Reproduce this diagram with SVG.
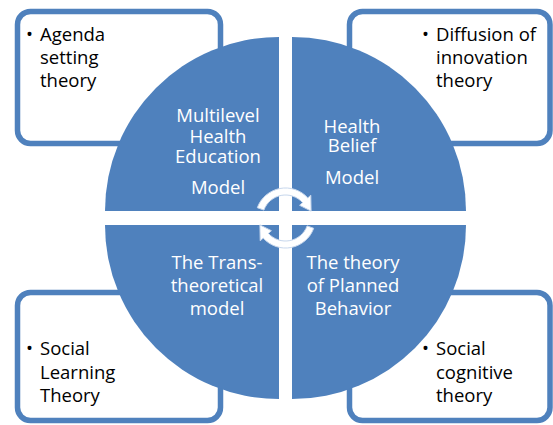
<svg xmlns="http://www.w3.org/2000/svg" width="553" height="425" viewBox="0 0 553 425">
<style>
.box{fill:#fff;stroke:#4F81BD;stroke-width:5.5}
.q{fill:#4F81BD}
.wt{font-family:"Open Sans","Liberation Sans",sans-serif;font-size:18.5px;fill:#fff;text-anchor:middle}
.bt{font-family:"Open Sans","Liberation Sans",sans-serif;font-size:18.5px;fill:#000}
.arr{fill:#fff;stroke:#C6D6EC;stroke-width:1}
</style>
<rect width="553" height="425" fill="#fff"/>
<g id="box-agenda">
<rect class="box" x="17.5" y="11.5" width="203" height="132" rx="13"/>
<text class="bt" x="26" y="41">•</text>
<text class="bt" x="40" y="41">Agenda</text>
<text class="bt" x="40" y="64">setting</text>
<text class="bt" x="40" y="87">theory</text>
</g>
<g id="box-diffusion">
<rect class="box" x="349.5" y="11.5" width="200.5" height="132" rx="13"/>
<text class="bt" x="422" y="41">•</text>
<text class="bt" x="436" y="41">Diffusion of</text>
<text class="bt" x="436" y="64">innovation</text>
<text class="bt" x="436" y="87">theory</text>
</g>
<g id="box-social-learning">
<rect class="box" x="17.5" y="292.5" width="203" height="128" rx="13"/>
<text class="bt" x="26" y="355">•</text>
<text class="bt" x="40" y="355">Social</text>
<text class="bt" x="40" y="379">Learning</text>
<text class="bt" x="40" y="402">Theory</text>
</g>
<g id="box-social-cognitive">
<rect class="box" x="349.5" y="292.5" width="200.5" height="128" rx="13"/>
<text class="bt" x="422" y="355">•</text>
<text class="bt" x="436" y="355">Social</text>
<text class="bt" x="436" y="379">cognitive</text>
<text class="bt" x="436" y="402">theory</text>
</g>
<g id="q-multilevel">
<path class="q" d="M279 211 L105 211 A174 174 0 0 1 279 37 Z"/>
<text class="wt" x="218" y="122">Multilevel</text>
<text class="wt" x="218" y="143">Health</text>
<text class="wt" x="218" y="163">Education</text>
<text class="wt" x="218" y="194">Model</text>
</g>
<g id="q-health-belief">
<path class="q" d="M292 211 L292 37 A174 174 0 0 1 466 211 Z"/>
<text class="wt" x="352" y="133">Health</text>
<text class="wt" x="352" y="152">Belief</text>
<text class="wt" x="352" y="184">Model</text>
</g>
<g id="q-transtheoretical">
<path class="q" d="M279 225 L279 399 A174 174 0 0 1 105 225 Z"/>
<text class="wt" x="217" y="269">The Trans-</text>
<text class="wt" x="217" y="292">theoretical</text>
<text class="wt" x="217" y="315">model</text>
</g>
<g id="q-planned-behavior">
<path class="q" d="M292 225 L466 225 A174 174 0 0 1 292 399 Z"/>
<text class="wt" x="353" y="269">The theory</text>
<text class="wt" x="353" y="292">of Planned</text>
<text class="wt" x="353" y="315">Behavior</text>
</g>
<g id="connectors">
<path id="arrow-top" class="arr" d="M257.3 207.7 A30 30 0 0 1 307.8 197.9 L310.8 195.2 L311.1 211.1 L299.6 205.3 L302.6 202.6 A23 23 0 0 0 263.9 210.1 Z"/>
<path id="arrow-bottom" class="arr" transform="rotate(180 285.5 218)" d="M257.3 207.7 A30 30 0 0 1 307.8 197.9 L310.8 195.2 L311.1 211.1 L299.6 205.3 L302.6 202.6 A23 23 0 0 0 263.9 210.1 Z"/>
</g>
</svg>
